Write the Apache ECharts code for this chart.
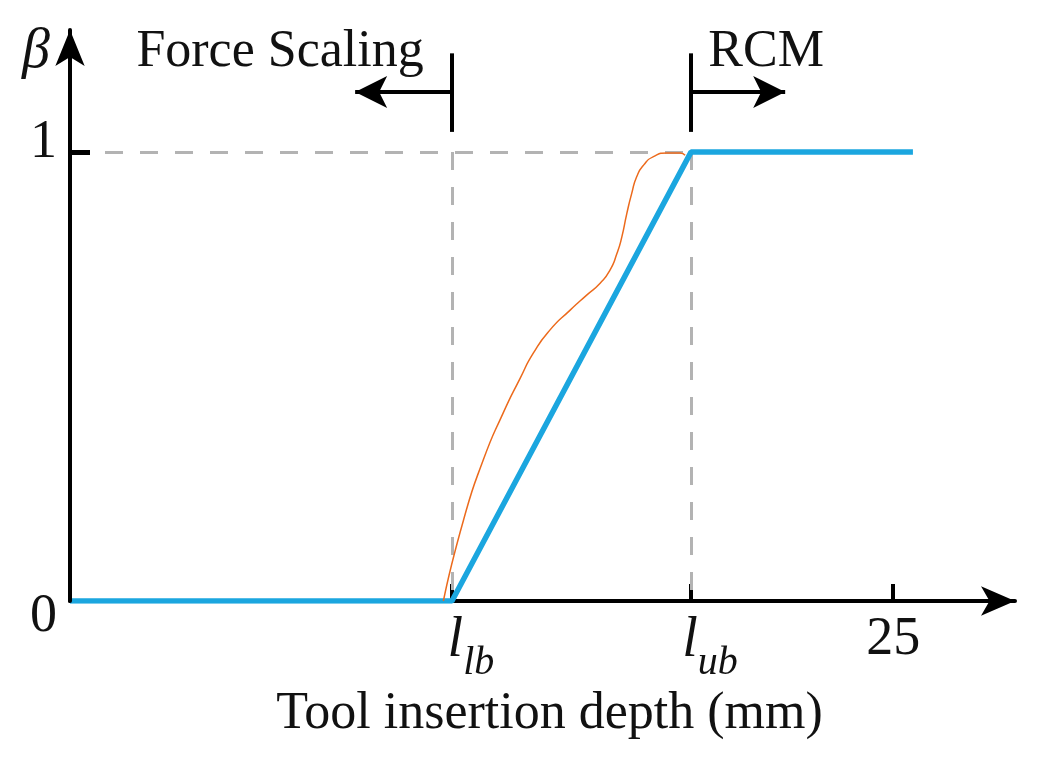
<!DOCTYPE html>
<html>
<head>
<meta charset="utf-8">
<script src="https://cdn.jsdelivr.net/npm/echarts@6/dist/echarts.min.js"></script>
<style>html,body{margin:0;padding:0;background:#fff}#c{width:1038px;height:758px}</style>
</head>
<body>
<div id="c"></div>
<script>
// ---- data ----
const L_LB = 11.6;
const L_UB = 18.86;
const X_END = 25.6;
const xTicks = [L_LB, L_UB, 25];
const xTickLabels = ['l_lb', 'l_ub', '25'];
const yTicks = [0, 1];
const yTickLabels = ['0', '1'];
const betaX = [0, L_LB, L_UB, X_END];
const betaY = [0, 0, 1, 1];
const curveX = [11.34, 11.95, 12.55, 13.15, 13.67, 14.07, 14.58, 15.19, 15.70, 16.10, 16.40, 16.61, 16.76, 16.91, 17.06, 17.21, 17.42, 17.72, 18.13, 18.53, 18.68];
const curveY = [0.0, 0.180, 0.314, 0.418, 0.496, 0.552, 0.604, 0.648, 0.682, 0.708, 0.737, 0.774, 0.811, 0.863, 0.908, 0.945, 0.971, 0.990, 0.998, 0.998, 0.993];
const regionNames = ['Force Scaling', 'RCM'];
const regionTextX = [6.38, 21.14];
const regionArrowTo = [8.66, 21.72];
const markerYLow = 1.045, markerYHigh = 1.22, arrowY = 1.134, textY = 1.223;

const SERIF = '"Liberation Serif", "Times New Roman", serif';
const chart = echarts.init(document.getElementById('c'));

const toPairs = (xs, ys) => xs.map((x, i) => [x, ys[i]]);

const option = {
  animation: false,
  backgroundColor: '#fff',
  grid: { left: 70, right: 23, top: 30, bottom: 157 },
  xAxis: {
    type: 'value', min: 0, max: 28.7,
    splitLine: { show: false },
    axisLine: { show: true, onZero: false, lineStyle: { color: '#000', width: 4 }, symbol: ['none', 'arrow'], symbolSize: [22, 34] },
    axisTick: { show: true, inside: true, length: 17, lineStyle: { color: '#000', width: 4 }, customValues: xTicks },
    axisLabel: {
      show: true, customValues: xTicks, margin: 12,
      fontFamily: SERIF, fontSize: 52, color: '#111',
      formatter: function (v) {
        const i = xTicks.findIndex(t => Math.abs(t - v) < 1e-6);
        const s = xTickLabels[i];
        if (s && s.indexOf('l_') === 0) return '{l|l}{s|' + s.slice(2) + '}';
        return '{n|' + s + '}';
      },
      rich: {
        l: { fontFamily: SERIF, fontStyle: 'italic', fontSize: 56, color: '#111', verticalAlign: 'bottom', padding: [0, 0, 14, 38] },
        s: { fontFamily: SERIF, fontStyle: 'italic', fontSize: 40, color: '#111', verticalAlign: 'bottom' },
        n: { fontFamily: SERIF, fontSize: 54, color: '#111', verticalAlign: 'bottom', padding: [0, 0, 14, 0] }
      }
    },
    name: 'Tool insertion depth (mm)', nameLocation: 'middle', nameGap: 87,
    nameTextStyle: { fontFamily: SERIF, fontSize: 52, color: '#111', padding: [0, 0, 0, 14] }
  },
  yAxis: {
    type: 'value', min: 0, max: 1.272, z: 10,
    splitLine: { show: false },
    axisLine: { show: true, onZero: false, lineStyle: { color: '#000', width: 4 }, symbol: ['none', 'arrow'], symbolSize: [22, 36] },
    axisTick: { show: true, inside: true, length: 20, lineStyle: { color: '#000', width: 5 }, customValues: [1] },
    axisLabel: {
      show: true, customValues: yTicks, margin: 13,
      formatter: function (v) {
        const i = yTicks.indexOf(v);
        return v === 0 ? '{a|' + yTickLabels[i] + '}' : '{b|' + yTickLabels[i] + '}';
      },
      rich: {
        a: { fontFamily: SERIF, fontSize: 54, color: '#111', padding: [32, 0, 0, 0] },
        b: { fontFamily: SERIF, fontSize: 54, color: '#111', padding: [0, 0, 18, 0] }
      }
    },
    name: 'β', nameLocation: 'end', nameGap: -22,
    nameTextStyle: { fontFamily: SERIF, fontStyle: 'italic', fontSize: 56, color: '#111', align: 'right', verticalAlign: 'middle', padding: [0, 20, 0, 0] }
  },
  series: [
    {
      type: 'line', name: 'guides', data: [], silent: true, z: 1,
      markLine: {
        silent: true, symbol: 'none', animation: false,
        label: { show: false },
        lineStyle: { color: '#b3b3b3', width: 3, type: [18, 17] },
        data: [
          [{ coord: [0, 1] }, { coord: [L_UB, 1] }],
          [{ coord: [L_LB, 1] }, { coord: [L_LB, 0] }],
          [{ coord: [L_UB, 1] }, { coord: [L_UB, 0] }]
        ]
      }
    },
    {
      type: 'line', name: 'regions', data: [], silent: true,
      markLine: {
        silent: true, symbol: 'none', animation: false,
        label: { show: false },
        lineStyle: { color: '#000', width: 4, type: 'solid' },
        data: [
          [{ coord: [L_LB, markerYLow] }, { coord: [L_LB, markerYHigh] }],
          [{ coord: [L_UB, markerYLow] }, { coord: [L_UB, markerYHigh] }],
          [{ coord: [L_LB, arrowY], symbol: 'none' }, { coord: [regionArrowTo[0], arrowY], symbol: 'arrow', symbolSize: [24, 32] }],
          [{ coord: [L_UB, arrowY], symbol: 'none' }, { coord: [regionArrowTo[1], arrowY], symbol: 'arrow', symbolSize: [24, 32] }]
        ]
      },
      markPoint: {
        silent: true, symbol: 'circle', symbolSize: 0, animation: false,
        label: { show: true, position: 'inside', fontFamily: SERIF, fontSize: 52, color: '#111', formatter: p => p.name },
        data: regionNames.map((n, i) => ({ name: n, coord: [regionTextX[i], textY] }))
      }
    },
    {
      type: 'line', name: 'beta', data: toPairs(betaX, betaY),
      showSymbol: false, z: 5,
      lineStyle: { color: '#1ba6df', width: 5.5 }
    },
    {
      type: 'line', name: 'smooth', data: toPairs(curveX, curveY),
      showSymbol: false, smooth: 0.6, z: 6,
      lineStyle: { color: '#ec6a1c', width: 1.5 }
    }
  ]
};
chart.setOption(option);
</script>
</body>
</html>
